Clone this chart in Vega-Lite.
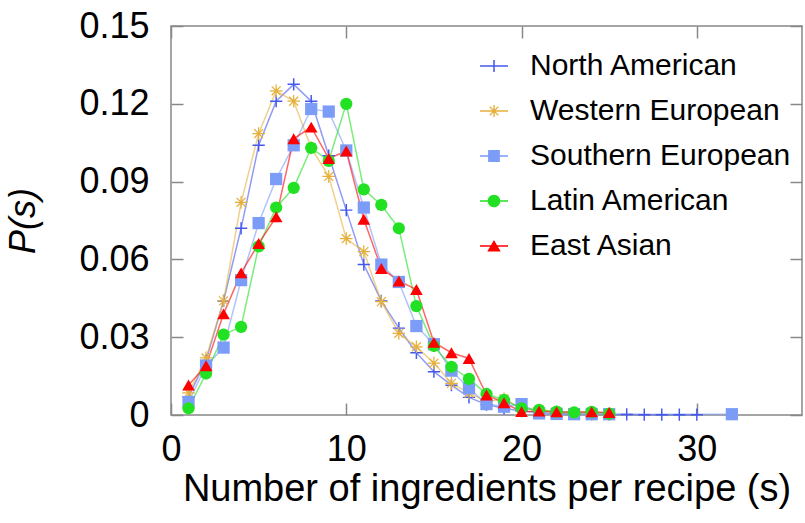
{
  "$schema": "https://vega.github.io/schema/vega-lite/v6.json",
  "width": 631,
  "height": 389,
  "autosize": {"type": "none"},
  "padding": {"left": 171, "top": 26, "right": 3, "bottom": 108},
  "config": {
    "font": "Liberation Sans",
    "view": {"stroke": "#888888", "strokeWidth": 1.5},
    "axis": {"grid": false, "domain": false, "tickColor": "#888888", "tickWidth": 1.5, "labelColor": "#000000", "titleColor": "#000000", "labelFont": "Liberation Sans", "titleFont": "Liberation Sans", "titleFontWeight": "normal", "labelOverlap": false, "labelBound": false, "labelFlush": false}
  },
  "data": {"values": [
    {"cuisine": "North American", "s": 1, "p": 0.007},
    {"cuisine": "North American", "s": 2, "p": 0.021},
    {"cuisine": "North American", "s": 3, "p": 0.044},
    {"cuisine": "North American", "s": 4, "p": 0.072},
    {"cuisine": "North American", "s": 5, "p": 0.104},
    {"cuisine": "North American", "s": 6, "p": 0.121},
    {"cuisine": "North American", "s": 7, "p": 0.1275},
    {"cuisine": "North American", "s": 8, "p": 0.121},
    {"cuisine": "North American", "s": 9, "p": 0.100},
    {"cuisine": "North American", "s": 10, "p": 0.079},
    {"cuisine": "North American", "s": 11, "p": 0.058},
    {"cuisine": "North American", "s": 12, "p": 0.044},
    {"cuisine": "North American", "s": 13, "p": 0.0335},
    {"cuisine": "North American", "s": 14, "p": 0.024},
    {"cuisine": "North American", "s": 15, "p": 0.0167},
    {"cuisine": "North American", "s": 16, "p": 0.0115},
    {"cuisine": "North American", "s": 17, "p": 0.0068},
    {"cuisine": "North American", "s": 18, "p": 0.004},
    {"cuisine": "North American", "s": 19, "p": 0.0026},
    {"cuisine": "North American", "s": 20, "p": 0.0015},
    {"cuisine": "North American", "s": 21, "p": 0.0009},
    {"cuisine": "North American", "s": 22, "p": 0.0006},
    {"cuisine": "North American", "s": 23, "p": 0.0004},
    {"cuisine": "North American", "s": 24, "p": 0.0003},
    {"cuisine": "North American", "s": 25, "p": 0.0002},
    {"cuisine": "North American", "s": 26, "p": 0.0002},
    {"cuisine": "North American", "s": 27, "p": 0.0001},
    {"cuisine": "North American", "s": 28, "p": 0.0001},
    {"cuisine": "North American", "s": 29, "p": 0.0001},
    {"cuisine": "North American", "s": 30, "p": 0.0001},
    {"cuisine": "Western European", "s": 1, "p": 0.0085},
    {"cuisine": "Western European", "s": 2, "p": 0.022},
    {"cuisine": "Western European", "s": 3, "p": 0.044},
    {"cuisine": "Western European", "s": 4, "p": 0.082},
    {"cuisine": "Western European", "s": 5, "p": 0.1085},
    {"cuisine": "Western European", "s": 6, "p": 0.125},
    {"cuisine": "Western European", "s": 7, "p": 0.121},
    {"cuisine": "Western European", "s": 8, "p": 0.103},
    {"cuisine": "Western European", "s": 9, "p": 0.092},
    {"cuisine": "Western European", "s": 10, "p": 0.068},
    {"cuisine": "Western European", "s": 11, "p": 0.063},
    {"cuisine": "Western European", "s": 12, "p": 0.0437},
    {"cuisine": "Western European", "s": 13, "p": 0.0315},
    {"cuisine": "Western European", "s": 14, "p": 0.0263},
    {"cuisine": "Western European", "s": 15, "p": 0.02},
    {"cuisine": "Western European", "s": 16, "p": 0.0122},
    {"cuisine": "Western European", "s": 17, "p": 0.0085},
    {"cuisine": "Western European", "s": 18, "p": 0.0052},
    {"cuisine": "Western European", "s": 19, "p": 0.0062},
    {"cuisine": "Western European", "s": 20, "p": 0.0025},
    {"cuisine": "Western European", "s": 21, "p": 0.0018},
    {"cuisine": "Western European", "s": 22, "p": 0.001},
    {"cuisine": "Western European", "s": 23, "p": 0.0005},
    {"cuisine": "Western European", "s": 24, "p": 0.0003},
    {"cuisine": "Western European", "s": 25, "p": 0.0002},
    {"cuisine": "Southern European", "s": 1, "p": 0.005},
    {"cuisine": "Southern European", "s": 2, "p": 0.019},
    {"cuisine": "Southern European", "s": 3, "p": 0.026},
    {"cuisine": "Southern European", "s": 4, "p": 0.052},
    {"cuisine": "Southern European", "s": 5, "p": 0.074},
    {"cuisine": "Southern European", "s": 6, "p": 0.091},
    {"cuisine": "Southern European", "s": 7, "p": 0.104},
    {"cuisine": "Southern European", "s": 8, "p": 0.118},
    {"cuisine": "Southern European", "s": 9, "p": 0.117},
    {"cuisine": "Southern European", "s": 10, "p": 0.102},
    {"cuisine": "Southern European", "s": 11, "p": 0.080},
    {"cuisine": "Southern European", "s": 12, "p": 0.058},
    {"cuisine": "Southern European", "s": 13, "p": 0.0513},
    {"cuisine": "Southern European", "s": 14, "p": 0.0343},
    {"cuisine": "Southern European", "s": 15, "p": 0.0273},
    {"cuisine": "Southern European", "s": 16, "p": 0.0171},
    {"cuisine": "Southern European", "s": 17, "p": 0.0103},
    {"cuisine": "Southern European", "s": 18, "p": 0.0042},
    {"cuisine": "Southern European", "s": 19, "p": 0.0032},
    {"cuisine": "Southern European", "s": 20, "p": 0.0042},
    {"cuisine": "Southern European", "s": 21, "p": 0.0006},
    {"cuisine": "Southern European", "s": 22, "p": 0.0004},
    {"cuisine": "Southern European", "s": 23, "p": 0.0003},
    {"cuisine": "Southern European", "s": 24, "p": 0.0003},
    {"cuisine": "Southern European", "s": 25, "p": 0.0003},
    {"cuisine": "Southern European", "s": 32, "p": 0.0003},
    {"cuisine": "Latin American", "s": 1, "p": 0.0026},
    {"cuisine": "Latin American", "s": 2, "p": 0.016},
    {"cuisine": "Latin American", "s": 3, "p": 0.031},
    {"cuisine": "Latin American", "s": 4, "p": 0.034},
    {"cuisine": "Latin American", "s": 5, "p": 0.065},
    {"cuisine": "Latin American", "s": 6, "p": 0.080},
    {"cuisine": "Latin American", "s": 7, "p": 0.0876},
    {"cuisine": "Latin American", "s": 8, "p": 0.103},
    {"cuisine": "Latin American", "s": 9, "p": 0.098},
    {"cuisine": "Latin American", "s": 10, "p": 0.120},
    {"cuisine": "Latin American", "s": 11, "p": 0.087},
    {"cuisine": "Latin American", "s": 12, "p": 0.081},
    {"cuisine": "Latin American", "s": 13, "p": 0.072},
    {"cuisine": "Latin American", "s": 14, "p": 0.042},
    {"cuisine": "Latin American", "s": 15, "p": 0.0266},
    {"cuisine": "Latin American", "s": 16, "p": 0.0186},
    {"cuisine": "Latin American", "s": 17, "p": 0.0139},
    {"cuisine": "Latin American", "s": 18, "p": 0.0081},
    {"cuisine": "Latin American", "s": 19, "p": 0.0058},
    {"cuisine": "Latin American", "s": 20, "p": 0.0026},
    {"cuisine": "Latin American", "s": 21, "p": 0.002},
    {"cuisine": "Latin American", "s": 22, "p": 0.0013},
    {"cuisine": "Latin American", "s": 23, "p": 0.001},
    {"cuisine": "Latin American", "s": 24, "p": 0.0012},
    {"cuisine": "Latin American", "s": 25, "p": 0.0005},
    {"cuisine": "East Asian", "s": 1, "p": 0.0116},
    {"cuisine": "East Asian", "s": 2, "p": 0.019},
    {"cuisine": "East Asian", "s": 3, "p": 0.039},
    {"cuisine": "East Asian", "s": 4, "p": 0.0548},
    {"cuisine": "East Asian", "s": 5, "p": 0.0661},
    {"cuisine": "East Asian", "s": 6, "p": 0.0764},
    {"cuisine": "East Asian", "s": 7, "p": 0.1065},
    {"cuisine": "East Asian", "s": 8, "p": 0.111},
    {"cuisine": "East Asian", "s": 9, "p": 0.0989},
    {"cuisine": "East Asian", "s": 10, "p": 0.1018},
    {"cuisine": "East Asian", "s": 11, "p": 0.0755},
    {"cuisine": "East Asian", "s": 12, "p": 0.0565},
    {"cuisine": "East Asian", "s": 13, "p": 0.0517},
    {"cuisine": "East Asian", "s": 14, "p": 0.0484},
    {"cuisine": "East Asian", "s": 15, "p": 0.028},
    {"cuisine": "East Asian", "s": 16, "p": 0.024},
    {"cuisine": "East Asian", "s": 17, "p": 0.0218},
    {"cuisine": "East Asian", "s": 18, "p": 0.0077},
    {"cuisine": "East Asian", "s": 19, "p": 0.0047},
    {"cuisine": "East Asian", "s": 20, "p": 0.0013},
    {"cuisine": "East Asian", "s": 21, "p": 0.0015},
    {"cuisine": "East Asian", "s": 22, "p": 0.0012},
    {"cuisine": "East Asian", "s": 24, "p": 0.0012},
    {"cuisine": "East Asian", "s": 25, "p": 0.001}
  ]},
  "layer": [
    {
      "mark": {"type": "point", "filled": true, "size": 40, "opacity": 0},
      "encoding": {
        "x": {"field": "s", "type": "quantitative", "axis": {"orient": "top", "values": [0, 10, 20, 30], "labels": false, "title": null, "tickSize": -12}},
        "y": {"field": "p", "type": "quantitative", "axis": {"orient": "right", "values": [0, 0.03, 0.06, 0.09, 0.12, 0.15], "labels": false, "title": null, "tickSize": -12}},
        "color": {"field": "cuisine", "type": "nominal",
          "legend": {"orient": "none", "legendX": 308, "legendY": 25, "title": null, "padding": 0, "labelFontSize": 30, "labelLimit": 400, "labelColor": "#000000", "symbolSize": 784, "symbolStrokeWidth": 0, "symbolOpacity": 1, "rowPadding": 15, "labelOffset": 21}},
        "shape": {"field": "cuisine", "type": "nominal",
          "scale": {"domain": ["North American", "Western European", "Southern European", "Latin American", "East Asian"],
            "range": [
              "M-1,-0.05H1V0.05H-1Z M-0.45,-0.055H0.45V0.055H-0.45Z M-0.055,-0.42H0.055V0.42H-0.055Z",
              "M-1,-0.05H1V0.05H-1Z M-0.05,-0.43H0.05V0.43H-0.05Z M-0.335,-0.273L-0.273,-0.335L0.335,0.273L0.273,0.335Z M0.335,-0.273L-0.273,0.335L-0.335,0.273L0.273,-0.335Z",
              "M-1,-0.05H1V0.05H-1Z M-0.42,-0.42H0.42V0.42H-0.42Z",
              "M-1,-0.05H1V0.05H-1Z M-0.45,0A0.45,0.45 0 1,1 0.45,0A0.45,0.45 0 1,1 -0.45,0Z",
              "M-1,-0.05H1V0.05H-1Z M0,-0.42L0.48,0.4H-0.48Z"]},
          "legend": {"orient": "none", "legendX": 308, "legendY": 25, "title": null, "padding": 0, "labelFontSize": 30, "labelLimit": 400, "labelColor": "#000000", "symbolSize": 784, "symbolStrokeWidth": 0, "symbolOpacity": 1, "rowPadding": 15, "labelOffset": 21}}
      }
    },
    {
      "mark": {"type": "line", "strokeWidth": 1.5, "opacity": 0.6},
      "encoding": {
        "x": {"field": "s", "type": "quantitative", "scale": {"domain": [0, 36], "nice": false},
          "axis": {"orient": "bottom", "values": [0, 10, 20, 30], "title": "Number of ingredients per recipe (s)", "labelFontSize": 36, "titleFontSize": 38, "tickSize": -12, "labelPadding": 29, "titlePadding": 3}},
        "y": {"field": "p", "type": "quantitative", "scale": {"domain": [0, 0.15], "nice": false},
          "axis": {"orient": "left", "values": [0, 0.03, 0.06, 0.09, 0.12, 0.15], "format": ".2~f", "title": "P(s)", "titleFontStyle": "italic", "labelFontSize": 36, "titleFontSize": 36, "tickSize": -12, "labelPadding": 34, "titlePadding": 36}},
        "color": {"field": "cuisine", "type": "nominal",
          "scale": {"domain": ["North American", "Western European", "Southern European", "Latin American", "East Asian"], "range": ["#4458f0", "#e6b03c", "#7b9cf7", "#22e022", "#ff0000"]},
          "legend": null}
      }
    },
    {
      "transform": [{"filter": "datum.cuisine === 'North American'"}],
      "mark": {"type": "point", "filled": true, "size": 150, "opacity": 1, "shape": "M-1,-0.12H1V0.12H-1Z M-0.12,-1H0.12V1H-0.12Z"},
      "encoding": {
        "x": {"field": "s", "type": "quantitative", "axis": null},
        "y": {"field": "p", "type": "quantitative", "axis": null},
        "color": {"field": "cuisine", "type": "nominal", "legend": null}
      }
    },
    {
      "transform": [{"filter": "datum.cuisine === 'Western European'"}],
      "mark": {"type": "point", "filled": true, "size": 160, "opacity": 1, "shape": "M-1,-0.1H1V0.1H-1Z M-0.1,-1H0.1V1H-0.1Z M-0.778,-0.636L-0.636,-0.778L0.778,0.636L0.636,0.778Z M0.778,-0.636L-0.636,0.778L-0.778,0.636L0.636,-0.778Z"},
      "encoding": {
        "x": {"field": "s", "type": "quantitative", "axis": null},
        "y": {"field": "p", "type": "quantitative", "axis": null},
        "color": {"field": "cuisine", "type": "nominal", "legend": null}
      }
    },
    {
      "transform": [{"filter": "datum.cuisine === 'Southern European'"}],
      "mark": {"type": "point", "filled": true, "size": 150, "opacity": 1, "shape": "square"},
      "encoding": {
        "x": {"field": "s", "type": "quantitative", "axis": null},
        "y": {"field": "p", "type": "quantitative", "axis": null},
        "color": {"field": "cuisine", "type": "nominal", "legend": null}
      }
    },
    {
      "transform": [{"filter": "datum.cuisine === 'Latin American'"}],
      "mark": {"type": "point", "filled": true, "size": 150, "opacity": 1, "shape": "circle"},
      "encoding": {
        "x": {"field": "s", "type": "quantitative", "axis": null},
        "y": {"field": "p", "type": "quantitative", "axis": null},
        "color": {"field": "cuisine", "type": "nominal", "legend": null}
      }
    },
    {
      "transform": [{"filter": "datum.cuisine === 'East Asian'"}],
      "mark": {"type": "point", "filled": true, "size": 160, "opacity": 1, "shape": "triangle-up"},
      "encoding": {
        "x": {"field": "s", "type": "quantitative", "axis": null},
        "y": {"field": "p", "type": "quantitative", "axis": null},
        "color": {"field": "cuisine", "type": "nominal", "legend": null}
      }
    }
  ],
  "resolve": {"axis": {"x": "independent", "y": "independent"}}
}
